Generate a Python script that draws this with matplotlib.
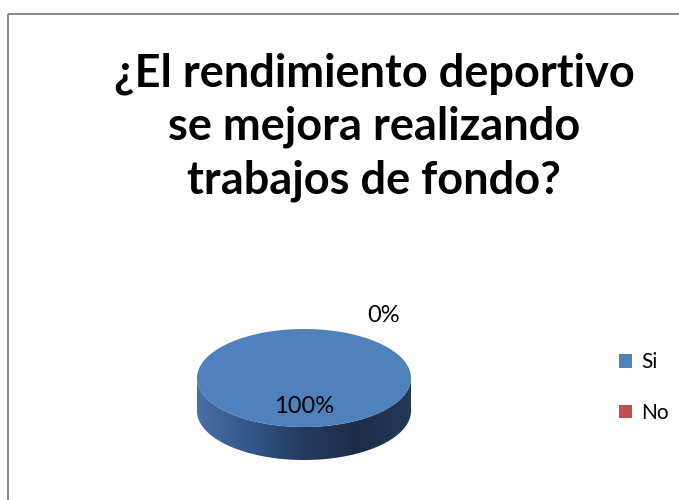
"""Tilted 3D-style pie of survey answers, drawn with plain matplotlib patches."""
import matplotlib

matplotlib.use("Agg")
import matplotlib.pyplot as plt
import numpy as np
from matplotlib.colors import LinearSegmentedColormap
from matplotlib.patches import Patch, Polygon, Rectangle

TITLE = "¿El rendimiento deportivo\nse mejora realizando\ntrabajos de fondo?"
categories = ["Si", "No"]
values = [100, 0]
colors = ["#4f81bd", "#c0504d"]

FONT = ["Lato", "DejaVu Sans"]

# pie geometry, in pixels of the 679x500 canvas
CX, CY = 304, 378
RX, RY = 107, 49
DEPTH = 33

fig = plt.figure(figsize=(6.79, 5.0), dpi=100)
ax = fig.add_axes([0, 0, 1, 1])
ax.set_xlim(0, 679)
ax.set_ylim(500, 0)
ax.axis("off")

# chart frame
ax.add_patch(Rectangle((8, 14), 700, 520, fill=False, ec="#8a8a8a", lw=1.4))

ax.text(374, 127, TITLE, ha="center", va="center", fontsize=32.5,
        fontweight="bold", family=FONT, linespacing=1.33, color="#000000")

total = float(sum(values))
fracs = [v / total for v in values]


def ell(theta_deg, dy=0.0):
    t = np.radians(theta_deg)
    return CX + RX * np.cos(t), CY - RY * np.sin(t) + dy


# slices run clockwise from 12 o'clock
start = 90.0
spans = []
for f in fracs:
    spans.append((start - 360 * f, start))
    start -= 360 * f

# side wall along the front half, shaded left-to-right
th = np.linspace(180, 360, 200)
xt, yt = ell(th)
xb, yb = ell(th[::-1], DEPTH)
side = Polygon(np.column_stack([np.r_[xt, xb], np.r_[yt, yb]]), closed=True,
               fc="none", ec="none")
ax.add_patch(side)
grad = np.linspace(0, 1, 256)
side_cmap = LinearSegmentedColormap.from_list(
    "side", ["#4a6fa3", "#34578a", "#233a5e", "#1e2d48", "#243858"])
img = ax.imshow(grad[None, :], cmap=side_cmap, aspect="auto",
                extent=(CX - RX, CX + RX, CY + RY + DEPTH + 2, CY - 2),
                zorder=1)
img.set_clip_path(side)

# top faces
for (a0, a1), c, f in zip(spans, colors, fracs):
    if f <= 0:
        continue
    t = np.linspace(a0, a1, 300)
    x, y = ell(t)
    if f < 1:
        x = np.r_[CX, x]
        y = np.r_[CY, y]
    ax.add_patch(Polygon(np.column_stack([x, y]), closed=True, fc=c,
                         ec="none", zorder=2))

# data labels
for (a0, a1), v, f in zip(spans, values, fracs):
    mid = (a0 + a1) / 2
    if f > 0.05:
        lx, ly = ell(mid)
        lx = CX + (lx - CX) * 0.55
        ly = CY + (ly - CY) * 0.55 + 2
    else:
        lx, ly = ell(mid)
        lx, ly = lx + 80, ly - 13
    ax.text(lx, ly, f"{v:.0f}%", ha="center", va="center", fontsize=17,
            family=FONT, color="#000000", zorder=3)

handles = [Patch(fc=c, ec="none") for c in colors]
fig.legend(handles, categories, loc="center left", bbox_to_anchor=(0.9, 0.225),
           frameon=False, prop={"family": FONT, "size": 15},
           handlelength=0.6, handleheight=0.6, handletextpad=0.45,
           labelspacing=1.45, borderaxespad=0)

fig.savefig("out.png", dpi=100)
